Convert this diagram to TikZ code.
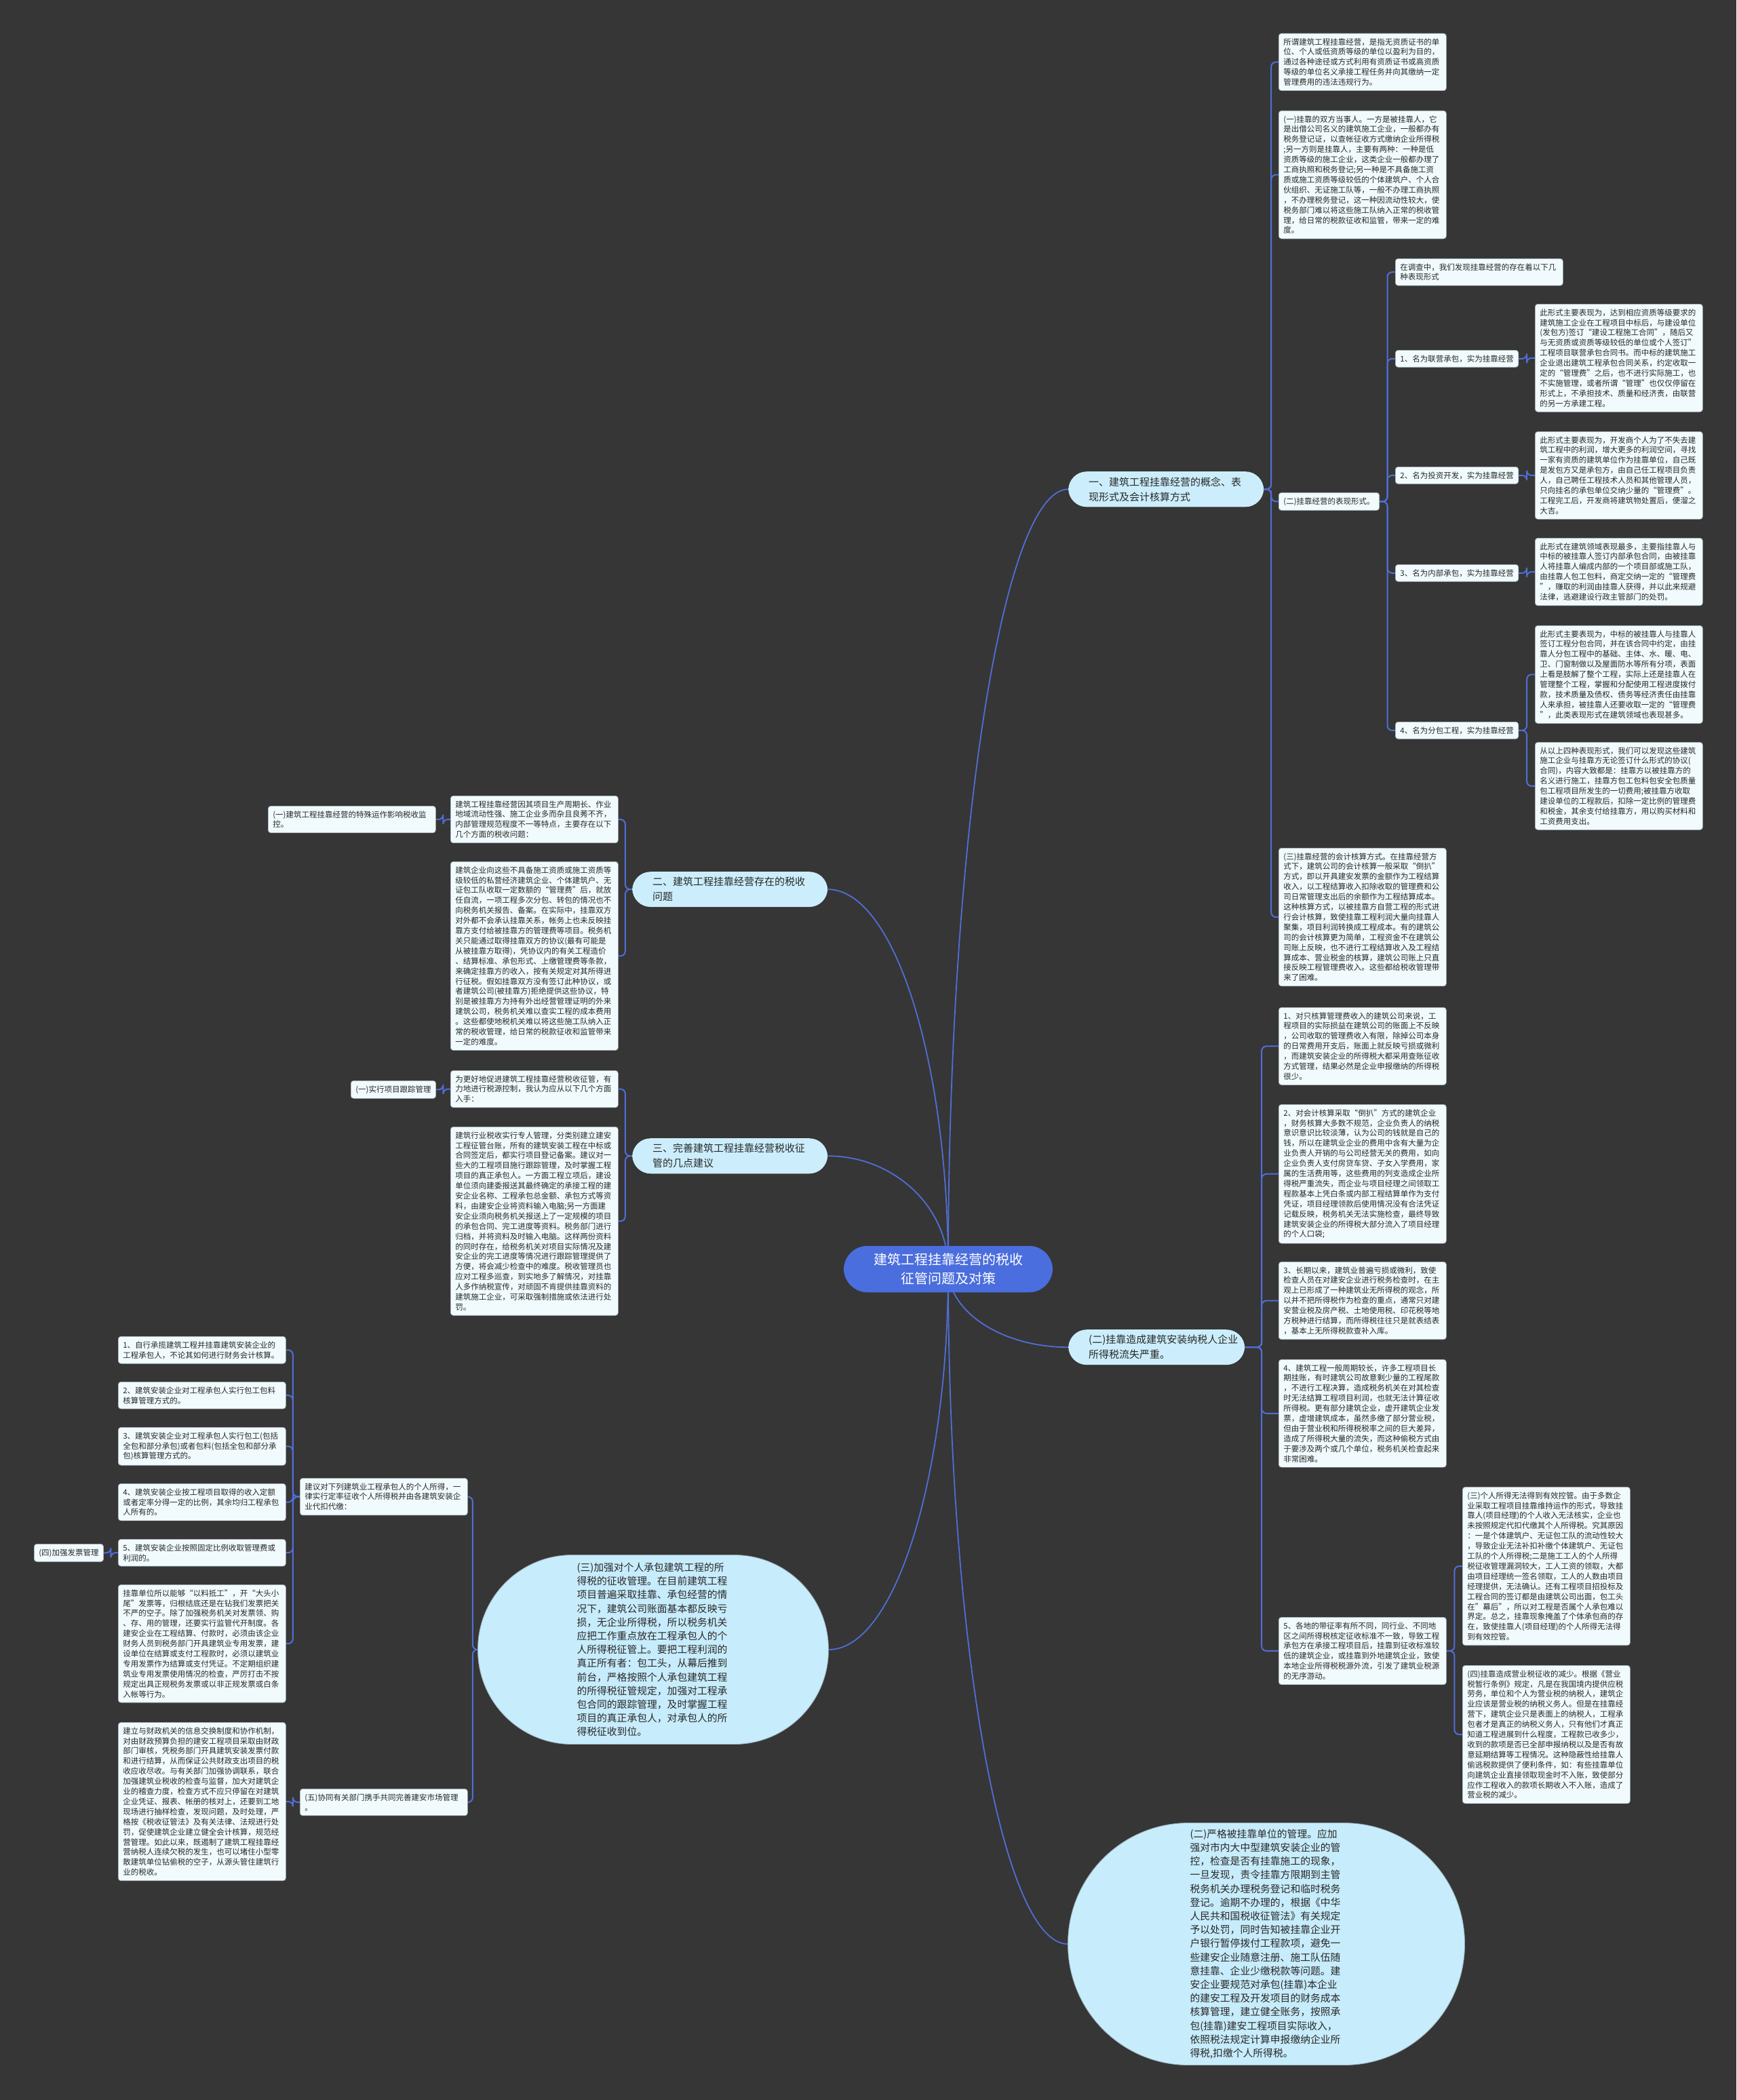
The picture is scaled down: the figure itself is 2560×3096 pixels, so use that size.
\documentclass[tikz,border=0pt]{standalone}
\usepackage{fontspec}
\setmainfont{Noto Sans CJK SC}
\usetikzlibrary{calc}
\pgfdeclarelayer{canvas}
\pgfdeclarelayer{lines}
\pgfsetlayers{canvas,lines,main}
\definecolor{bgc}{RGB}{54,54,54}
\definecolor{boxfill}{RGB}{241,251,253}
\definecolor{boxline}{RGB}{170,180,186}
\definecolor{pillfill}{RGB}{204,238,252}
\definecolor{ovalfill}{RGB}{199,236,251}
\definecolor{ovalline}{RGB}{150,170,180}
\definecolor{rootc}{RGB}{75,110,222}
\definecolor{linec}{RGB}{80,110,215}
\definecolor{txt}{RGB}{40,40,40}
\tikzset{
 base/.style={anchor=north west, fill=boxfill, draw=boxline, line width=0.7pt, rounded corners=4pt, text=txt, inner xsep=7pt, inner ysep=7pt, font=\fontsize{11.5}{14.9}\selectfont},
 box/.style={base, text width=233pt, align=left},
 tag/.style={base},
 pill/.style={anchor=north west, fill=pillfill, rounded corners=27pt, text=txt, inner xsep=30pt, inner ysep=8pt, text width=228pt, align=left, font=\fontsize{15}{22}\selectfont},
 oval/.style={fill=ovalfill, draw=ovalline, line width=0.8pt, text=txt, align=left, text width=225pt, font=\fontsize{14.8}{20.2}\selectfont},
 rootn/.style={fill=rootc, text=white, rounded corners=35pt, inner xsep=44pt, inner ysep=11pt, align=center, font=\fontsize{20}{28}\selectfont},
 conn/.style={draw=linec, line width=2pt, rounded corners=7pt},
 curv/.style={draw=linec, line width=1.8pt},
}
\newcommand\rconn[2]{\draw[conn] (#1.east) -| ($(#1.east)!.5!(#2.west)$) |- (#2.west);}
\newcommand\lconn[2]{\draw[conn] (#1.west) -| ($(#1.west)!.5!(#2.east)$) |- (#2.east);}
\newcommand\rootcurve[2]{\coordinate (k#1) at (root.center |- #2);
 \draw[curv] (root.center) .. controls ($(root.center)!0.55!(k#1)$) and ($(#2)!0.55!(k#1)$) .. (#2);}
\begin{document}
\begin{tikzpicture}[x=1pt,y=-1pt]
\useasboundingbox (0,0) rectangle (2560,3096);
\begin{pgfonlayer}{canvas}
\fill[bgc] (0,0) rectangle (2560,3096);
\end{pgfonlayer}

% root
\node[rootn] (root) at (1398,1871) {建筑工程挂靠经营的税收\\征管问题及对策};

% main branches
\node[pill] (b1) at (1575,695) {一、建筑工程挂靠经营的概念、表\\现形式及会计核算方式};
\node[pill, text width=200pt] (b2) at (1575,1960) {(二)挂靠造成建筑安装纳税人企业\\所得税流失严重。};
\node[pill] (b3) at (932,1285) {二、建筑工程挂靠经营存在的税收\\问题};
\node[pill] (b4) at (932,1678) {三、完善建筑工程挂靠经营税收征\\管的几点建议};

\node[oval, minimum width=517pt, minimum height=279pt, rounded corners=139pt] (e1) at (963,2432) {(三)加强对个人承包建筑工程的所\\得税的征收管理。在目前建筑工程\\项目普遍采取挂靠、承包经营的情\\况下，建筑公司账面基本都反映亏\\损，无企业所得税，所以税务机关\\应把工作重点放在工程承包人的个\\人所得税征管上。要把工程利润的\\真正所有者：包工头，从幕后推到\\前台，严格按照个人承包建筑工程\\的所得税征管规定，加强对工程承\\包合同的跟踪管理，及时掌握工程\\项目的真正承包人，对承包人的所\\得税征收到位。};

\node[oval, minimum width=585pt, minimum height=357pt, rounded corners=178pt] (e2) at (1867,2866) {(二)严格被挂靠单位的管理。应加\\强对市内大中型建筑安装企业的管\\控，检查是否有挂靠施工的现象，\\一旦发现，责令挂靠方限期到主管\\税务机关办理税务登记和临时税务\\登记。逾期不办理的，根据《中华\\人民共和国税收征管法》有关规定\\予以处罚，同时告知被挂靠企业开\\户银行暂停拨付工程款项，避免一\\些建安企业随意注册、施工队伍随\\意挂靠、企业少缴税款等问题。建\\安企业要规范对承包(挂靠)本企业\\的建安工程及开发项目的财务成本\\核算管理，建立健全账务，按照承\\包(挂靠)建安工程项目实际收入，\\依照税法规定计算申报缴纳企业所\\得税,扣缴个人所得税。};

% b1 subtree
\node[box] (A) at (1885,49) {所谓建筑工程挂靠经营，是指无资质证书的单\\位、个人或低资质等级的单位以盈利为目的，\\通过各种途径或方式利用有资质证书或高资质\\等级的单位名义承接工程任务并向其缴纳一定\\管理费用的违法违规行为。};
\node[box] (B) at (1885,163) {(一)挂靠的双方当事人。一方是被挂靠人，它\\是出借公司名义的建筑施工企业，一般都办有\\税务登记证，以查帐征收方式缴纳企业所得税\\;另一方则是挂靠人，主要有两种：一种是低\\资质等级的施工企业，这类企业一般都办理了\\工商执照和税务登记;另一种是不具备施工资\\质或施工资质等级较低的个体建筑户、个人合\\伙组织、无证施工队等，一般不办理工商执照\\，不办理税务登记，这一种因流动性较大，使\\税务部门难以将这些施工队纳入正常的税收管\\理，给日常的税款征收和监管，带来一定的难\\度。};
\node[tag] (F2) at (1885,726) {(二)挂靠经营的表现形式。};
\node[box] (F3) at (1885,1250) {(三)挂靠经营的会计核算方式。在挂靠经营方\\式下，建筑公司的会计核算一般采取“倒扒”\\方式，即以开具建安发票的金额作为工程结算\\收入，以工程结算收入扣除收取的管理费和公\\司日常管理支出后的余额作为工程结算成本。\\这种核算方式，以被挂靠方自营工程的形式进\\行会计核算，致使挂靠工程利润大量向挂靠人\\聚集，项目利润转换成工程成本。有的建筑公\\司的会计核算更为简单，工程资金不在建筑公\\司账上反映，也不进行工程结算收入及工程结\\算成本、营业税金的核算，建筑公司账上只直\\接反映工程管理费收入。这些都给税收管理带\\来了困难。};

\node[box] (C) at (2057,381) {在调查中，我们发现挂靠经营的存在着以下几\\种表现形式};
\node[tag] (I1) at (2057,516) {1、名为联营承包，实为挂靠经营};
\node[tag] (I2) at (2057,688) {2、名为投资开发，实为挂靠经营};
\node[tag] (I3) at (2057,832) {3、名为内部承包，实为挂靠经营};
\node[tag] (I4) at (2057,1064) {4、名为分包工程，实为挂靠经营};
\node[box] (D1) at (2263,448) {此形式主要表现为，达到相应资质等级要求的\\建筑施工企业在工程项目中标后，与建设单位\\(发包方)签订“建设工程施工合同”，随后又\\与无资质或资质等级较低的单位或个人签订”\\工程项目联营承包合同书。而中标的建筑施工\\企业退出建筑工程承包合同关系，约定收取一\\定的“管理费”之后，也不进行实际施工，也\\不实施管理，或者所谓“管理”也仅仅停留在\\形式上，不承担技术、质量和经济责，由联营\\的另一方承建工程。};
\node[box] (D2) at (2263,636) {此形式主要表现为，开发商个人为了不失去建\\筑工程中的利润，增大更多的利润空间，寻找\\一家有资质的建筑单位作为挂靠单位，自己既\\是发包方又是承包方，由自己任工程项目负责\\人，自己聘任工程技术人员和其他管理人员，\\只向挂名的承包单位交纳少量的“管理费”。\\工程完工后，开发商将建筑物处置后，便溜之\\大吉。};
\node[box] (D3) at (2263,793) {此形式在建筑领域表现最多，主要指挂靠人与\\中标的被挂靠人签订内部承包合同，由被挂靠\\人将挂靠人编成内部的一个项目部或施工队，\\由挂靠人包工包料，商定交纳一定的“管理费\\”，赚取的利润由挂靠人获得，并以此来规避\\法律，逃避建设行政主管部门的处罚。};
\node[box] (D4) at (2263,922) {此形式主要表现为，中标的被挂靠人与挂靠人\\签订工程分包合同，并在该合同中约定，由挂\\靠人分包工程中的基础、主体、水、暖、电、\\卫、门窗制做以及屋面防水等所有分项，表面\\上看是肢解了整个工程，实际上还是挂靠人在\\管理整个工程，掌握和分配使用工程进度拨付\\款，技术质量及债权、债务等经济责任由挂靠\\人来承担，被挂靠人还要收取一定的“管理费\\”，此类表现形式在建筑领域也表现甚多。};
\node[box] (D5) at (2263,1094) {从以上四种表现形式，我们可以发现这些建筑\\施工企业与挂靠方无论签订什么形式的协议(\\合同)，内容大致都是：挂靠方以被挂靠方的\\名义进行施工，挂靠方包工包料包安全包质量\\包工程项目所发生的一切费用;被挂靠方收取\\建设单位的工程款后，扣除一定比例的管理费\\和税金，其余支付给挂靠方，用以购买材料和\\工资费用支出。};

% b2 subtree
\node[box] (P1) at (1885,1485) {1、对只核算管理费收入的建筑公司来说，工\\程项目的实际损益在建筑公司的账面上不反映\\，公司收取的管理费收入有限，除掉公司本身\\的日常费用开支后，账面上就反映亏损或微利\\，而建筑安装企业的所得税大都采用查账征收\\方式管理，结果必然是企业申报缴纳的所得税\\很少。};
\node[box] (P2) at (1885,1628) {2、对会计核算采取“倒扒”方式的建筑企业\\，财务核算大多数不规范，企业负责人的纳税\\意识意识比较淡薄，认为公司的钱就是自己的\\钱，所以在建筑业企业的费用中含有大量为企\\业负责人开销的与公司经营无关的费用，如向\\企业负责人支付房贷车贷、子女入学费用，家\\属的生活费用等，这些费用的列支造成企业所\\得税严重流失，而企业与项目经理之间领取工\\程款基本上凭白条或内部工程结算单作为支付\\凭证，项目经理领款后使用情况没有合法凭证\\记载反映，税务机关无法实施检查，最终导致\\建筑安装企业的所得税大部分流入了项目经理\\的个人口袋;};
\node[box] (P3) at (1885,1860) {3、长期以来，建筑业普遍亏损或微利，致使\\检查人员在对建安企业进行税务检查时，在主\\观上已形成了一种建筑业无所得税的观念，所\\以并不把所得税作为检查的重点，通常只对建\\安营业税及房产税、土地使用税、印花税等地\\方税种进行结算，而所得税往往只是就表结表\\，基本上无所得税款查补入库。};
\node[box] (P4) at (1885,2004) {4、建筑工程一般周期较长，许多工程项目长\\期挂账，有时建筑公司故意剩少量的工程尾款\\，不进行工程决算，造成税务机关在对其检查\\时无法结算工程项目利润，也就无法计算征收\\所得税。更有部分建筑企业，虚开建筑企业发\\票，虚增建筑成本，虽然多缴了部分营业税，\\但由于营业税和所得税税率之间的巨大差异，\\造成了所得税大量的流失，而这种偷税方式由\\于要涉及两个或几个单位，税务机关检查起来\\非常困难。};
\node[box] (P5) at (1885,2384) {5、各地的带征率有所不同，同行业、不同地\\区之间所得税核定征收标准不一致，导致工程\\承包方在承接工程项目后，挂靠到征收标准较\\低的建筑企业，或挂靠到外地建筑企业，致使\\本地企业所得税税源外流，引发了建筑业税源\\的无序游动。};
\node[box] (Q3) at (2156,2192) {(三)个人所得无法得到有效控管。由于多数企\\业采取工程项目挂靠维持运作的形式，导致挂\\靠人(项目经理)的个人收入无法核实，企业也\\未按照规定代扣代缴其个人所得税。究其原因\\：一是个体建筑户、无证包工队的流动性较大\\，导致企业无法补扣补缴个体建筑户、无证包\\工队的个人所得税;二是施工工人的个人所得\\税征收管理漏洞较大，工人工资的领取，大都\\由项目经理统一签名领取，工人的人数由项目\\经理提供，无法确认。还有工程项目招投标及\\工程合同的签订都是由建筑公司出面，包工头\\在”幕后”，所以对工程是否属个人承包难以\\界定。总之，挂靠现象掩盖了个体承包商的存\\在，致使挂靠人(项目经理)的个人所得无法得\\到有效控管。};
\node[box] (Q4) at (2156,2455) {(四)挂靠造成营业税征收的减少。根据《营业\\税暂行条例》规定，凡是在我国境内提供应税\\劳务，单位和个人为营业税的纳税人，建筑企\\业应该是营业税的纳税义务人。但是在挂靠经\\营下，建筑企业只是表面上的纳税人，工程承\\包者才是真正的纳税义务人，只有他们才真正\\知道工程进展到什么程度，工程款已收多少，\\收到的款项是否已全部申报纳税以及是否有故\\意延期结算等工程情况。这种隐蔽性给挂靠人\\偷逃税款提供了便利条件，如：有些挂靠单位\\向建筑企业直接领取现金时不入账，致使部分\\应作工程收入的款项长期收入不入账，造成了\\营业税的减少。};

% b3 subtree
\node[box] (L1) at (664,1173) {建筑工程挂靠经营因其项目生产周期长、作业\\地域流动性强、施工企业多而杂且良莠不齐，\\内部管理规范程度不一等特点，主要存在以下\\几个方面的税收问题：};
\node[box] (L2) at (664,1270) {建筑企业向这些不具备施工资质或施工资质等\\级较低的私营经济建筑企业、个体建筑户、无\\证包工队收取一定数额的“管理费”后，就放\\任自流，一项工程多次分包、转包的情况也不\\向税务机关报告、备案。在实际中，挂靠双方\\对外都不会承认挂靠关系，帐务上也未反映挂\\靠方支付给被挂靠方的管理费等项目。税务机\\关只能通过取得挂靠双方的协议(最有可能是\\从被挂靠方取得)，凭协议内的有关工程造价\\、结算标准、承包形式、上缴管理费等条款，\\来确定挂靠方的收入，按有关规定对其所得进\\行征税。假如挂靠双方没有签订此种协议，或\\者建筑公司(被挂靠方)拒绝提供这些协议，特\\别是被挂靠方为持有外出经营管理证明的外来\\建筑公司，税务机关难以查实工程的成本费用\\。这些都使地税机关难以将这些施工队纳入正\\常的税收管理，给日常的税款征收和监管带来\\一定的难度。};
\node[box] (G1) at (395,1188) {(一)建筑工程挂靠经营的特殊运作影响税收监\\控。};

% b4 subtree
\node[box] (L3) at (664,1578) {为更好地促进建筑工程挂靠经营税收征管，有\\力地进行税源控制，我认为应从以下几个方面\\入手：};
\node[box] (L4) at (664,1661) {建筑行业税收实行专人管理，分类别建立建安\\工程征管台账，所有的建筑安装工程在中标或\\合同签定后，都实行项目登记备案。建议对一\\些大的工程项目施行跟踪管理，及时掌握工程\\项目的真正承包人。一方面工程立项后，建设\\单位须向建委报送其最终确定的承接工程的建\\安企业名称、工程承包总金额、承包方式等资\\料，由建安企业将资料输入电脑;另一方面建\\安企业须向税务机关报送上了一定规模的项目\\的承包合同、完工进度等资料。税务部门进行\\归档，并将资料及时输入电脑。这样两份资料\\的同时存在，给税务机关对项目实际情况及建\\安企业的完工进度等情况进行跟踪管理提供了\\方便，将会减少检查中的难度。税收管理员也\\应对工程多巡查，到实地多了解情况，对挂靠\\人多作纳税宣传，对顽固不肯提供挂靠资料的\\建筑施工企业，可采取强制措施或依法进行处\\罚。};
\node[tag] (G2) at (517,1593) {(一)实行项目跟踪管理};

% e1 subtree
\node[box] (R0) at (442,2179) {建议对下列建筑业工程承包人的个人所得，一\\律实行定率征收个人所得税并由各建筑安装企\\业代扣代缴：};
\node[box] (R5) at (442,2637) {(五)协同有关部门携手共同完善建安市场管理\\。};
\node[box] (S1) at (174,1970) {1、自行承揽建筑工程并挂靠建筑安装企业的\\工程承包人，不论其如何进行财务会计核算。};
\node[box] (S2) at (174,2037) {2、建筑安装企业对工程承包人实行包工包料\\核算管理方式的。};
\node[box] (S3) at (174,2104) {3、建筑安装企业对工程承包人实行包工(包括\\全包和部分承包)或者包料(包括全包和部分承\\包)核算管理方式的。};
\node[box] (S4) at (174,2187) {4、建筑安装企业按工程项目取得的收入定额\\或者定率分得一定的比例，其余均归工程承包\\人所有的。};
\node[box] (S5) at (174,2269) {5、建筑安装企业按照固定比例收取管理费或\\利润的。};
\node[box] (S6) at (174,2336) {挂靠单位所以能够“以料抵工”，开“大头小\\尾”发票等，归根结底还是在钻我们发票把关\\不严的空子。除了加强税务机关对发票领、购\\、存、用的管理，还要实行监管代开制度。各\\建安企业在工程结算、付款时，必须由该企业\\财务人员到税务部门开具建筑业专用发票，建\\设单位在结算或支付工程款时，必须以建筑业\\专用发票作为结算或支付凭证。不定期组织建\\筑业专用发票使用情况的检查，严厉打击不按\\规定出具正规税务发票或以非正规发票或白条\\入帐等行为。};
\node[tag] (T4) at (50,2276) {(四)加强发票管理};
\node[box] (S7) at (174,2539) {建立与财政机关的信息交换制度和协作机制，\\对由财政预算负担的建安工程项目采取由财政\\部门审核，凭税务部门开具建筑安装发票付款\\和进行结算，从而保证公共财政支出项目的税\\收应收尽收。与有关部门加强协调联系，联合\\加强建筑业税收的检查与监督，加大对建筑企\\业的稽查力度，检查方式不应只停留在对建筑\\企业凭证、报表、帐册的核对上，还要到工地\\现场进行抽样检查，发现问题，及时处理，严\\格按《税收征管法》及有关法律、法规进行处\\罚，促使建筑企业建立健全会计核算，规范经\\营管理。如此以来，既遏制了建筑工程挂靠经\\营纳税人连续欠税的发生，也可以堵住小型零\\散建筑单位钻偷税的空子，从源头管住建筑行\\业的税收。};

\begin{pgfonlayer}{lines}
% root curves (leave the root vertically, enter the branch horizontally)
\rootcurve{1}{b1.west}
\rootcurve{2}{b2.west}
\rootcurve{3}{e2.west}
\rootcurve{4}{b3.east}
\rootcurve{5}{b4.east}
\rootcurve{6}{e1.east}
% right brackets
\rconn{b1}{A}\rconn{b1}{B}\rconn{b1}{F2}\rconn{b1}{F3}
\rconn{F2}{C}\rconn{F2}{I1}\rconn{F2}{I2}\rconn{F2}{I3}\rconn{F2}{I4}
\rconn{I1}{D1}\rconn{I2}{D2}\rconn{I3}{D3}\rconn{I4}{D4}\rconn{I4}{D5}
\rconn{b2}{P1}\rconn{b2}{P2}\rconn{b2}{P3}\rconn{b2}{P4}\rconn{b2}{P5}
\rconn{P5}{Q3}\rconn{P5}{Q4}
% left brackets
\lconn{b3}{L1}\lconn{b3}{L2}\lconn{L1}{G1}
\lconn{b4}{L3}\lconn{b4}{L4}\lconn{L3}{G2}
\lconn{e1}{R0}\lconn{e1}{R5}
\lconn{R0}{S1}\lconn{R0}{S2}\lconn{R0}{S3}\lconn{R0}{S4}\lconn{R0}{S5}\lconn{R0}{S6}
\lconn{S5}{T4}\lconn{R5}{S7}
\end{pgfonlayer}
\end{tikzpicture}
\end{document}
